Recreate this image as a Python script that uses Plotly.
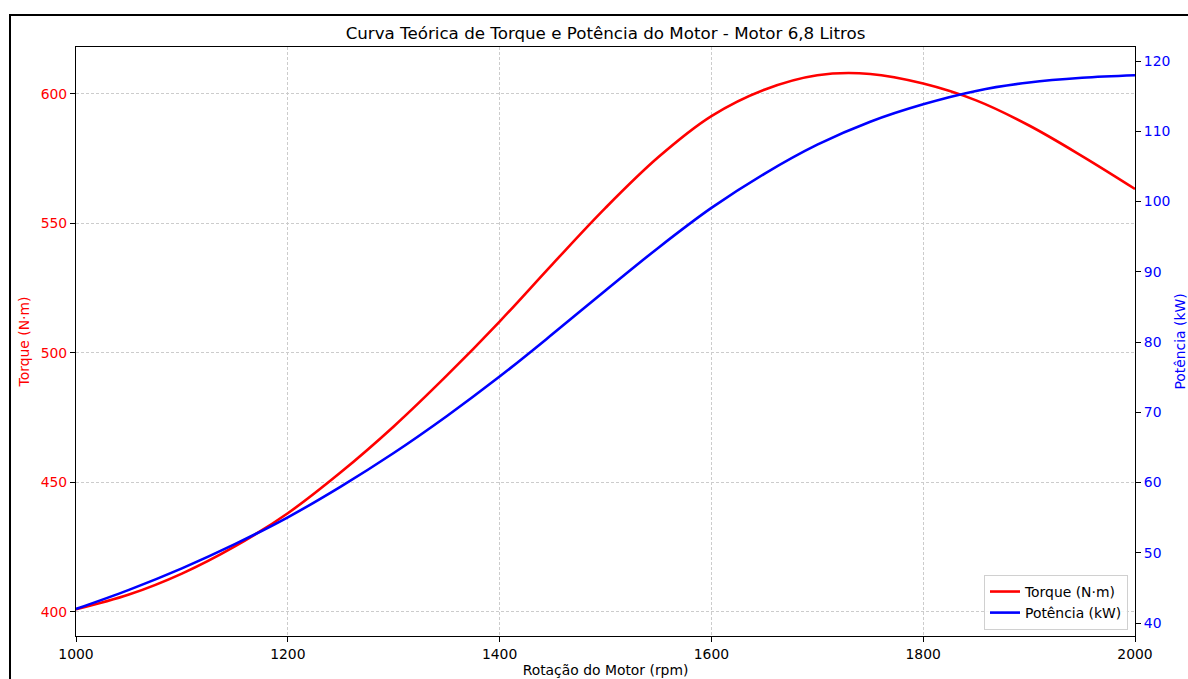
import plotly.graph_objects as go

# Data
rpm = [1000, 1050, 1100, 1150, 1200, 1250, 1300, 1350, 1400, 1450, 1500,
       1550, 1600, 1650, 1700, 1750, 1800, 1850, 1900, 1950, 2000]
torque_nm = [401.0, 406.7, 414.8, 425.3, 438.1, 453.9, 471.6, 491.2, 512.1, 534.3, 556.0,
             575.6, 591.4, 601.6, 607.2, 607.7, 604.0, 597.5, 587.8, 576.0, 563.3]
power_kw = [42.0, 44.72, 47.78, 51.22, 55.05, 59.42, 64.2, 69.44, 75.08, 81.13, 87.34,
            93.43, 99.09, 103.95, 108.1, 111.37, 113.85, 115.75, 116.95, 117.62, 117.98]

x_ticks = [1000, 1200, 1400, 1600, 1800, 2000]
torque_ticks = [400, 450, 500, 550, 600]
power_ticks = [40, 50, 60, 70, 80, 90, 100, 110, 120]

FONT = "DejaVu Sans"
W, H = 1188, 679
L, R, T, B = 76, 53, 47, 43
pw, ph = W - L - R, H - T - B

fig = go.Figure()
fig.add_trace(go.Scatter(
    x=rpm, y=torque_nm, mode="lines", name="Torque (N·m)",
    line=dict(color="#ff0000", width=2.6, shape="spline", smoothing=1.0),
    yaxis="y"))
fig.add_trace(go.Scatter(
    x=rpm, y=power_kw, mode="lines", name="Potência (kW)",
    line=dict(color="#0000ff", width=2.6, shape="spline", smoothing=1.0),
    yaxis="y2"))

grid = dict(showgrid=True, gridcolor="#cccccc", gridwidth=0.6, griddash="3px,2px")

fig.update_layout(
    width=W, height=H,
    margin=dict(l=L, r=R, t=T, b=B, autoexpand=False),
    paper_bgcolor="white", plot_bgcolor="white",
    font=dict(family=FONT, size=13.9, color="#000000"),
    title=dict(text="Curva Teórica de Torque e Potência do Motor - Motor 6,8 Litros",
               x=(L + pw / 2) / W, xanchor="center", y=1 - 33 / H, yanchor="middle",
               font=dict(family=FONT, size=16.7, color="#000000")),
    xaxis=dict(range=[1000, 2000], tickvals=x_ticks, ticks="outside", ticklen=5,
               tickcolor="#000000", tickwidth=1, showline=True, linecolor="#000000",
               linewidth=1.1, mirror=True, zeroline=False,
               tickfont=dict(color="#000000", size=13.9),
               title=dict(text="Rotação do Motor (rpm)", standoff=4,
                          font=dict(size=13.9, color="#000000")),
               automargin=False, **grid),
    yaxis=dict(range=[390.7, 618.1], tickvals=torque_ticks, ticks="outside", ticklen=5,
               tickcolor="#000000", tickwidth=1, showline=True, linecolor="#000000",
               linewidth=1.1, zeroline=False,
               tickfont=dict(color="#ff0000", size=13.9),
               title=dict(text="Torque (N·m)", standoff=7,
                          font=dict(size=13.9, color="#ff0000")),
               automargin=False, **grid),
    yaxis2=dict(range=[38.15, 122.0], tickvals=power_ticks, ticks="outside", ticklen=5,
                tickcolor="#000000", tickwidth=1, showline=True, linecolor="#000000",
                linewidth=1.1, zeroline=False, showgrid=False,
                overlaying="y", side="right",
                tickfont=dict(color="#0000ff", size=13.9),
                title=dict(text="Potência (kW)", standoff=9,
                           font=dict(size=13.9, color="#0000ff")),
                automargin=False),
    legend=dict(x=1 - 7 / pw, xanchor="right", y=6 / ph, yanchor="bottom",
                bgcolor="rgba(255,255,255,0.85)", bordercolor="#d0d0d0", borderwidth=1,
                font=dict(size=13.9, color="#000000"), itemwidth=30,
                tracegroupgap=0),
    showlegend=True,
)

# Figure border (partially visible, as in the reference crop)
fig.add_shape(type="rect", xref="paper", yref="paper",
              x0=(10 - L) / pw, x1=(1230 - L) / pw,
              y0=(T + ph - 720) / ph, y1=(T + ph - 15) / ph,
              line=dict(color="#000000", width=2), fillcolor="rgba(0,0,0,0)",
              layer="above")

fig.write_html("out.html")
